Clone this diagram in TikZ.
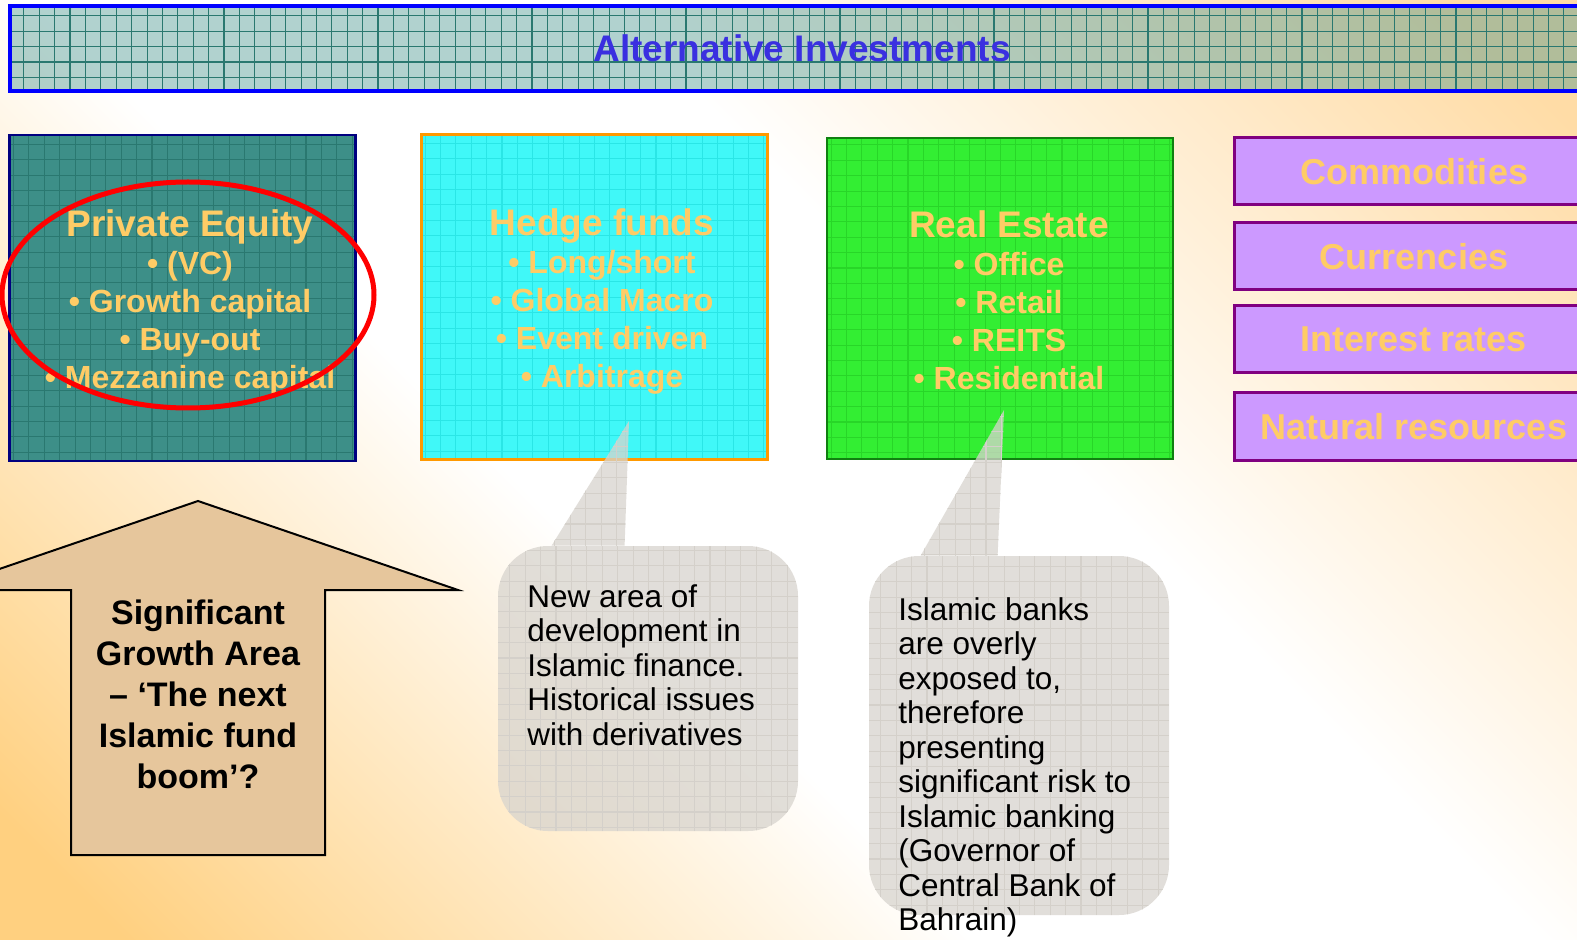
\documentclass[tikz,border=0pt]{standalone}
\usepackage{fontspec}
\setmainfont{Liberation Sans}

\definecolor{washorange}{HTML}{FFD080}
\definecolor{washpeach}{HTML}{FFDCA6}
\definecolor{titleblue}{HTML}{3A30E0}
\definecolor{gold}{HTML}{FFCC66}
\definecolor{peteal}{HTML}{3D8F88}
\definecolor{pegrid}{HTML}{2A7870}
\definecolor{navy}{HTML}{000080}
\definecolor{hfcyan}{HTML}{40F8F8}
\definecolor{hfgrid}{HTML}{2AE6E6}
\definecolor{hforange}{HTML}{FF9900}
\definecolor{regreen}{HTML}{33EE33}
\definecolor{regrid}{HTML}{28D628}
\definecolor{reborder}{HTML}{108010}
\definecolor{lavender}{HTML}{CC99FF}
\definecolor{plum}{HTML}{800080}
\definecolor{arrowtan}{HTML}{E6C69C}
\definecolor{notegrey}{HTML}{D8D4CE}
\definecolor{notegrid}{HTML}{D4D0CA}

\pgfdeclareverticalshading{wash}{100bp}{color(0bp)=(washorange); color(18bp)=(washorange); color(42bp)=(white); color(58bp)=(white); color(82bp)=(washpeach); color(100bp)=(washpeach)}

\tikzset{
    gridded/.style={path picture={
        \draw[#1, line width=0.1pt] (path picture bounding box.south west) grid[step=7.7pt] (path picture bounding box.north east);
        \draw[#1, line width=0.25pt] (path picture bounding box.south west) grid[step=15.4pt] (path picture bounding box.north east);}},
    banner/.style={rectangle, draw=blue, line width=1.75pt, fill=peteal, fill opacity=0.4, text opacity=1,
        minimum width=792pt, minimum height=42.5pt, text=titleblue, font=\bfseries\fontsize{18.5}{20}\selectfont, gridded=pegrid},
    sector/.style={rectangle, inner sep=0pt, minimum width=173pt},
    sectortext/.style={text=gold, align=center, font=\bfseries\fontsize{16}{19}\selectfont},
    assetbox/.style={rectangle, draw=plum, line width=1.5pt, fill=lavender, minimum width=180pt, minimum height=33.5pt,
        text=gold, font=\bfseries\fontsize{18}{20}\selectfont},
    growarrow/.style={draw=black, line width=1pt, fill=arrowtan, line join=miter},
    growtext/.style={align=center, font=\bfseries\fontsize{17}{20.5}\selectfont},
    note/.style={rectangle, rounded corners=25pt, fill=notegrey, fill opacity=0.75, minimum width=150pt, gridded=notegrid},
    notefill/.style={fill=notegrey, fill opacity=0.75, gridded=notegrid},
    notetext/.style={anchor=north west, inner sep=0pt, align=left, font=\fontsize{15.75}{17.25}\selectfont},
}

\begin{document}
\begin{tikzpicture}[x=0.5pt, y=-0.5pt]
    \useasboundingbox (0,0) rectangle (1577,940);
    \clip (0,0) rectangle (1577,940);
    \shade[shading=wash, shading angle=-45] (0,0) rectangle (1577,940);

    % heading bar
    \node[banner] (title) at (802,48.5) {Alternative Investments};

    % sector boxes
    \node[sector, minimum height=163pt, fill=peteal, draw=navy, line width=1.25pt, gridded=pegrid] (pe) at (182.5,298) {};
    \node[sector, minimum height=162pt, fill=hfcyan, draw=hforange, line width=1.5pt, gridded=hfgrid] (hf) at (594,297) {};
    \node[sector, minimum height=160.5pt, fill=regreen, draw=reborder, line width=1.25pt, gridded=regrid] (re) at (1000,298.5) {};

    \node[sectortext] (petext) at (190,302) {{\fontsize{18.5}{20.5}\selectfont Private Equity}\\• (VC)\\• Growth capital\\• Buy-out\\• Mezzanine capital};
    \node[sectortext] (hftext) at (602,301) {{\fontsize{18.5}{20.5}\selectfont Hedge funds}\\• Long/short\\• Global Macro\\• Event driven\\• Arbitrage};
    \node[sectortext] (retext) at (1009,300) {{\fontsize{18.5}{20.5}\selectfont Real Estate}\\• Office\\• Retail\\• REITS\\• Residential};

    % other asset classes
    \begin{scope}[every node/.style={assetbox}]
        \node (commod) at (1414,171.5) {Commodities};
        \node (curr) at (1414,256.5) {Currencies};
        \node (rates) at (1414,339) {Interest rates};
        \node (natres) at (1414,426.5) {Natural resources};
    \end{scope}

    % ring round private equity
    \draw[red, line width=2.5pt] (188,295) ellipse [x radius=186, y radius=113];

    % growth arrow
    \draw[growarrow] (198,501) -- (458,590) -- (325,590) -- (325,855) -- (71,855) -- (71,590) -- (-62,590) -- cycle;
    \node[growtext] (growth) at (198,694) {Significant\\Growth Area\\– ‘The next\\Islamic fund\\boom’?};

    % speech bubbles
    \coordinate (hftip) at (629,421);
    \coordinate (retip) at (1004,410);
    \node[note, minimum height=142.5pt] (hfnote) at (648,688.5) {};
    \node[note, minimum height=179.5pt] (renote) at (1019,735.5) {};
    \fill[notefill] ([xshift=27pt]hfnote.north west) -- (hftip) -- ([xshift=63.5pt]hfnote.north west) -- cycle;
    \fill[notefill] ([xshift=26pt]renote.north west) -- (retip) -- ([xshift=64.5pt]renote.north west) -- cycle;

    \node[notetext] (hfnotetext) at (527,584) {New area of\\development in\\Islamic finance.\\Historical issues\\with derivatives};
    \node[notetext] (renotetext) at (898,597) {Islamic banks\\are overly\\exposed to,\\therefore\\presenting\\significant risk to\\Islamic banking\\(Governor of\\Central Bank of\\Bahrain)};
\end{tikzpicture}
\end{document}
